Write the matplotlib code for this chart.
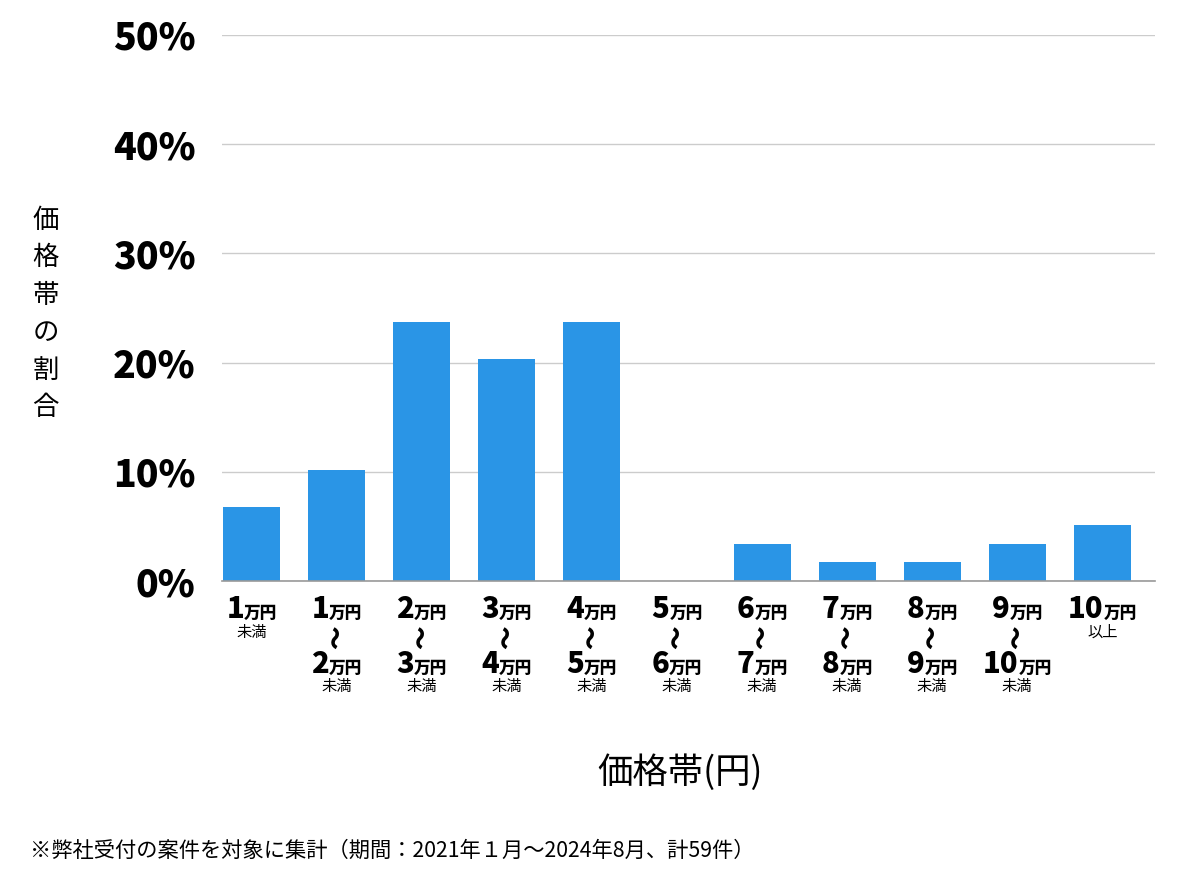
import matplotlib
matplotlib.use('Agg')
import matplotlib.pyplot as plt
import matplotlib.transforms as mtransforms

plt.rcParams['font.family'] = ['Noto Sans CJK JP', 'DejaVu Sans']

# price bands (man-yen) and share of cases in %
band_from = ['1', '1', '2', '3', '4', '5', '6', '7', '8', '9', '10']
band_to = [None, '2', '3', '4', '5', '6', '7', '8', '9', '10', None]
band_note = ['未満', '未満', '未満', '未満', '未満', '未満', '未満', '未満', '未満', '未満', '以上']
share = [6.8, 10.2, 23.7, 20.3, 23.7, 0.0, 3.4, 1.7, 1.7, 3.4, 5.1]
y_ticks = [0, 10, 20, 30, 40, 50]

fig = plt.figure(figsize=(12, 8.74), dpi=100)
ax = fig.add_axes([0.185, 0.3352, 0.7775, 0.6248])

x = list(range(len(share)))
ax.bar(x, share, width=0.67, color='#2A95E6', zorder=3)

ax.set_xlim(-0.35, 10.62)
ax.set_ylim(0, 50)
ax.set_yticks(y_ticks)
ax.set_yticklabels([f'{t}%' for t in y_ticks], fontsize=27, fontweight='heavy')
ax.tick_params(axis='y', length=0, pad=19)
ax.set_xticks([])
ax.grid(axis='y', color='#cccccc', linewidth=1, zorder=0)
for s in ['top', 'right', 'left']:
    ax.spines[s].set_visible(False)
ax.spines['bottom'].set_color('#999999')
ax.spines['bottom'].set_linewidth(1.2)
ax.spines['bottom'].set_zorder(4)

trans = mtransforms.blended_transform_factory(ax.transData, fig.transFigure)
renderer = fig.canvas.get_renderer()


def amount(xc, ypx, num):
    # big bold number followed by smaller 万円, centred together
    yf = 1 - ypx / 874
    t1 = ax.text(xc, yf, num, transform=trans, fontsize=21, fontweight='heavy',
                 ha='left', va='baseline')
    t2 = ax.text(xc, yf, '万円', transform=trans, fontsize=12, fontweight='heavy',
                 ha='left', va='baseline')
    w1 = t1.get_window_extent(renderer).width
    w2 = t2.get_window_extent(renderer).width
    tot = w1 + w2
    t1.set_transform(mtransforms.offset_copy(trans, fig, x=-tot / 2, units='dots'))
    t2.set_transform(mtransforms.offset_copy(trans, fig, x=-tot / 2 + w1, units='dots'))


for i in x:
    amount(i, 618, band_from[i])
    if band_to[i] is None:
        ax.text(i, 1 - 632 / 874, band_note[i], transform=trans, fontsize=11,
                ha='center', va='center')
    else:
        ax.text(i, 1 - 637 / 874, '〜', transform=trans, fontsize=17,
                fontweight='heavy', rotation=90, ha='center', va='center')
        amount(i, 673, band_to[i])
        ax.text(i, 1 - 686 / 874, band_note[i], transform=trans, fontsize=11,
                ha='center', va='center')

fig.text(0.567, 1 - 773 / 874, '価格帯(円)', fontsize=25.5, ha='center', va='center')
fig.text(0.038, 1 - 314 / 874, '価\n格\n帯\nの\n割\n合', fontsize=19,
         ha='center', va='center', linespacing=1.5)
fig.text(0.025, 1 - 851 / 874,
         '※弊社受付の案件を対象に集計（期間：2021年１月〜2024年8月、計59件）',
         fontsize=15.3, ha='left', va='center')

fig.savefig('out.png', dpi=100)
